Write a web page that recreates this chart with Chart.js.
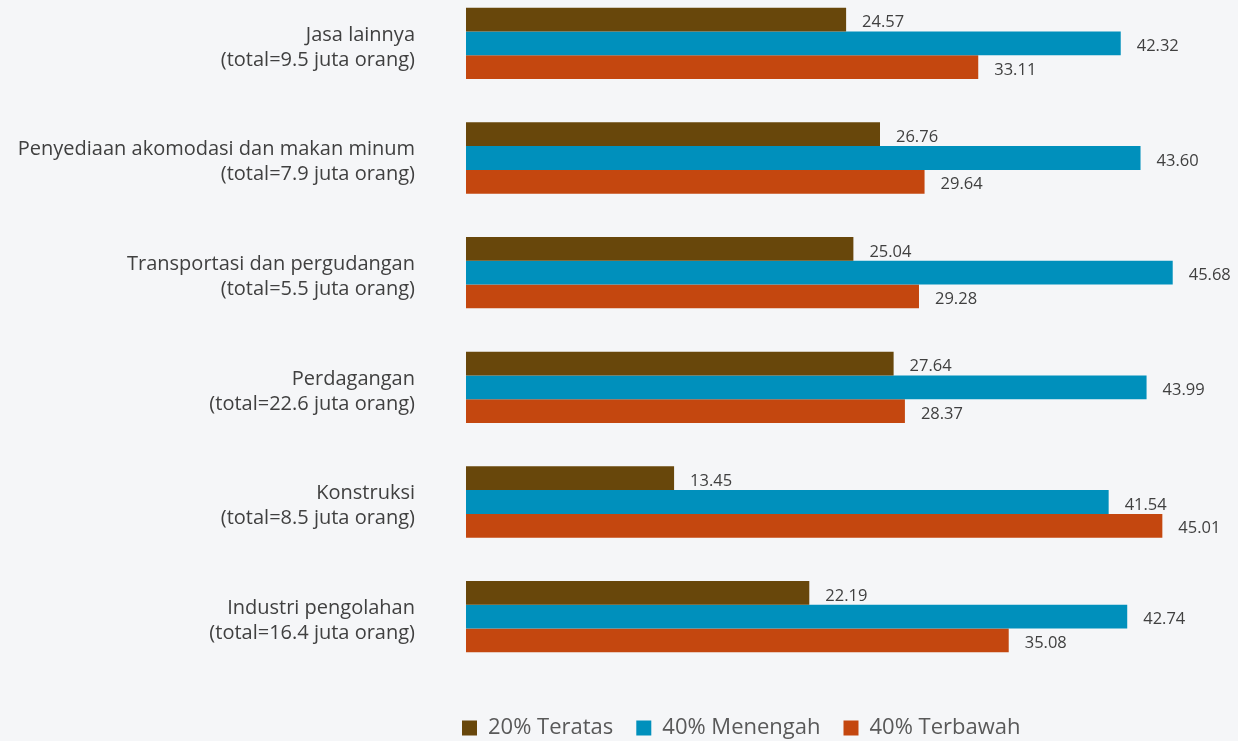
<!DOCTYPE html>
<html>
<head>
<meta charset="utf-8">
<script src="https://cdn.jsdelivr.net/npm/chart.js@4/dist/chart.umd.min.js"></script>
<style>
  html, body { margin: 0; padding: 0; background: #f5f6f8; overflow: hidden; }
  #wrap { width: 1238px; height: 755px; position: relative; margin-top: -14px; }
</style>
</head>
<body>
<div id="wrap"><canvas id="c"></canvas></div>
<script>
const categories = [
  ['Jasa lainnya', '(total=9.5 juta orang)'],
  ['Penyediaan akomodasi dan makan minum', '(total=7.9 juta orang)'],
  ['Transportasi dan pergudangan', '(total=5.5 juta orang)'],
  ['Perdagangan', '(total=22.6 juta orang)'],
  ['Konstruksi', '(total=8.5 juta orang)'],
  ['Industri pengolahan', '(total=16.4 juta orang)']
];
const seriesNames = ['20% Teratas', '40% Menengah', '40% Terbawah'];
const top20 = [24.57, 26.76, 25.04, 27.64, 13.45, 22.19];
const mid40 = [42.32, 43.60, 45.68, 43.99, 41.54, 42.74];
const bottom40 = [33.11, 29.64, 29.28, 28.37, 45.01, 35.08];
const colors = ['#68470b', '#0090bc', '#c4470f'];

const FONT = "'Open Sans', 'Noto Sans', sans-serif";

const valueLabels = {
  id: 'valueLabels',
  afterDatasetsDraw(chart) {
    const ctx = chart.ctx;
    ctx.save();
    ctx.font = '16.5px ' + FONT;
    ctx.fillStyle = '#404040';
    ctx.textAlign = 'left';
    ctx.textBaseline = 'middle';
    chart.data.datasets.forEach((ds, di) => {
      const meta = chart.getDatasetMeta(di);
      meta.data.forEach((bar, i) => {
        ctx.fillText(ds.data[i].toFixed(2), bar.x + 16, bar.y + 3);
      });
    });
    ctx.restore();
  }
};

const legendShift = {
  id: 'legendShift',
  afterLayout(chart) {
    const lg = chart.legend;
    if (!lg) return;
    const d = 439;
    lg.left += d;
    lg.right += d + 500;
  }
};

new Chart(document.getElementById('c'), {
  type: 'bar',
  data: {
    labels: categories,
    datasets: [
      { label: seriesNames[0], data: top20, backgroundColor: colors[0] },
      { label: seriesNames[1], data: mid40, backgroundColor: colors[1] },
      { label: seriesNames[2], data: bottom40, backgroundColor: colors[2] }
    ]
  },
  options: {
    indexAxis: 'y',
    responsive: true,
    maintainAspectRatio: false,
    animation: false,
    datasets: { bar: { categoryPercentage: 0.622, barPercentage: 1.0, borderWidth: 0 } },
    layout: { padding: { top: 0, bottom: -8, left: 0, right: 0 } },
    scales: {
      x: {
        min: 0, max: 49.9,
        display: true,
        grid: { display: false, drawTicks: false },
        border: { display: false },
        ticks: { display: false },
        afterFit(scale) { scale.height = 20; scale.paddingLeft = 0; scale.paddingRight = 0; }
      },
      y: {
        grid: { display: false, drawTicks: false },
        border: { display: false },
        ticks: {
          color: '#404040',
          font: { family: FONT, size: 20, lineHeight: 1.25 },
          padding: 51,
          labelOffset: 4
        },
        afterFit(scale) { scale.width = 466; scale.paddingTop = 0; scale.paddingBottom = 0; }
      }
    },
    plugins: {
      tooltip: { enabled: false },
      legend: {
        position: 'bottom',
        align: 'start',
        labels: {
          boxWidth: 15, boxHeight: 15,
          padding: 23,
          color: '#595959',
          font: { family: FONT, size: 22 }
        }
      }
    }
  },
  plugins: [valueLabels, legendShift]
});
</script>
</body>
</html>
